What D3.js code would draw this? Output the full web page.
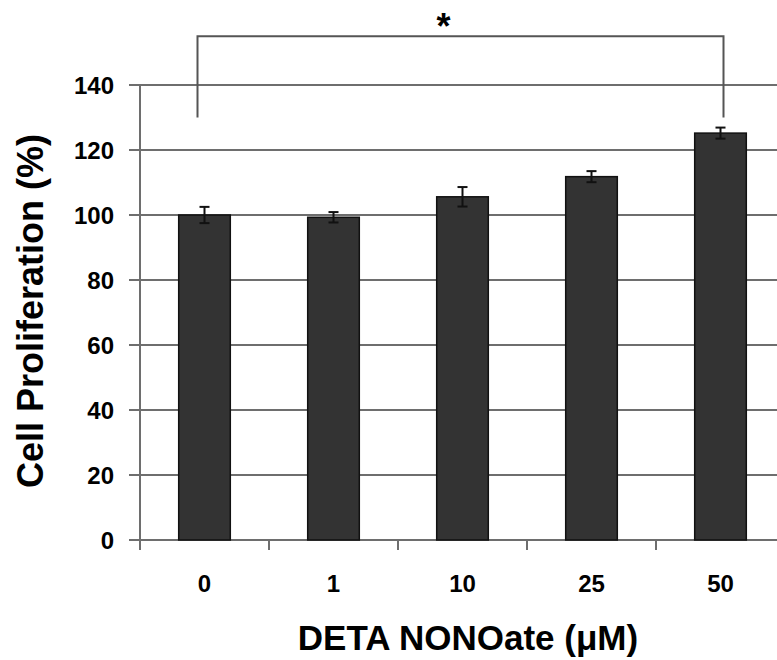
<html>
    <head>
        <script src="https://d3js.org/d3.v7.min.js"></script>
        <style>
            body { margin: 0; background: #fff; }
            svg { display: block; font-family: "Liberation Sans", Arial, sans-serif; font-weight: bold; }
            .grid line { stroke: #6e6e6e; stroke-width: 2px; }
            .bar { fill: #333; stroke: #111; stroke-width: 1.5px; }
            .err { stroke: #111; stroke-width: 2px; fill: none; }
            .bracket { stroke: #555; stroke-width: 2px; fill: none; }
        </style>
    </head>
    <body>
        <script>
            // data
            var doses = ["0", "1", "10", "25", "50"];
            var means = [100, 99.3, 105.6, 111.8, 125.2];
            var errs = [2.5, 1.6, 3.0, 1.7, 1.7];
            var yTicks = [0, 20, 40, 60, 80, 100, 120, 140];
            var sigPair = ["0", "50"];
            var sigLevels = [155, 130]; // bracket top, leg ends (in % units)

            var width = 777, height = 660;
            var x0 = 140, x1 = 785, yTop = 85, yBottom = 540;

            var svg = d3.select("body").append("svg")
                .attr("width", width)
                .attr("height", height);

            var x = d3.scaleBand()
                .domain(doses)
                .range([x0, x1])
                .paddingInner(0.6)
                .paddingOuter(0.3);
            var xEdge = d3.scaleLinear()
                .domain([0, doses.length])
                .range([x0, x1]);
            var y = d3.scaleLinear()
                .domain([0, 140])
                .range([yBottom, yTop]);

            // horizontal gridlines + y ticks
            var grid = svg.append("g").attr("class", "grid");
            grid.selectAll("line.h")
                .data(yTicks)
                .enter().append("line")
                    .attr("x1", x0 - 11)
                    .attr("x2", width)
                    .attr("y1", function(d) { return y(d); })
                    .attr("y2", function(d) { return y(d); });

            // y axis line
            grid.append("line")
                .attr("x1", x0).attr("x2", x0)
                .attr("y1", y(140)).attr("y2", y(0));

            // x axis ticks at category boundaries
            grid.selectAll("line.xt")
                .data(d3.range(doses.length + 1))
                .enter().append("line")
                    .attr("x1", function(i) { return xEdge(i); })
                    .attr("x2", function(i) { return xEdge(i); })
                    .attr("y1", y(0))
                    .attr("y2", y(0) + 10);

            // y tick labels
            svg.selectAll("text.ytl")
                .data(yTicks)
                .enter().append("text")
                    .attr("x", 114)
                    .attr("y", function(d) { return y(d) + 9; })
                    .attr("text-anchor", "end")
                    .style("font-size", "24px")
                    .text(function(d) { return d; });

            // x labels
            svg.selectAll("text.xtl")
                .data(doses)
                .enter().append("text")
                    .attr("x", function(d) { return x(d) + x.bandwidth() / 2; })
                    .attr("y", 592)
                    .attr("text-anchor", "middle")
                    .style("font-size", "24px")
                    .text(function(d) { return d; });

            // bars
            svg.selectAll("rect.bar")
                .data(doses)
                .enter().append("rect")
                    .attr("class", "bar")
                    .attr("x", function(d) { return x(d); })
                    .attr("width", x.bandwidth())
                    .attr("y", function(d, i) { return y(means[i]); })
                    .attr("height", function(d, i) { return y(0) - y(means[i]); });

            // error bars
            var eb = svg.append("g").attr("class", "err");
            doses.forEach(function(d, i) {
                var cx = x(d) + x.bandwidth() / 2;
                var hi = y(means[i] + errs[i]), lo = y(means[i] - errs[i]);
                eb.append("line").attr("x1", cx).attr("x2", cx).attr("y1", hi).attr("y2", lo);
                eb.append("line").attr("x1", cx - 5).attr("x2", cx + 5).attr("y1", hi).attr("y2", hi);
                eb.append("line").attr("x1", cx - 5).attr("x2", cx + 5).attr("y1", lo).attr("y2", lo);
            });

            // significance bracket
            var bl = x(sigPair[0]) + x.bandwidth() / 2 - 7,
                br = x(sigPair[1]) + x.bandwidth() / 2 + 3;
            svg.append("path")
                .attr("class", "bracket")
                .attr("d", d3.line()([
                    [bl, y(sigLevels[1])], [bl, y(sigLevels[0])],
                    [br, y(sigLevels[0])], [br, y(sigLevels[1])]
                ]));
            svg.append("text")
                .attr("x", (bl + br) / 2 - 17)
                .attr("y", y(sigLevels[0]) + 3)
                .attr("text-anchor", "middle")
                .style("font-size", "36px")
                .text("*");

            // axis titles
            svg.append("text")
                .attr("x", 468)
                .attr("y", 650)
                .attr("text-anchor", "middle")
                .style("font-size", "35px")
                .text("DETA NONOate (\u03bcM)");

            svg.append("text")
                .attr("transform", "translate(43,311) rotate(-90)")
                .attr("text-anchor", "middle")
                .style("font-size", "36px")
                .text("Cell Proliferation (%)");
        </script>
    </body>
</html>
